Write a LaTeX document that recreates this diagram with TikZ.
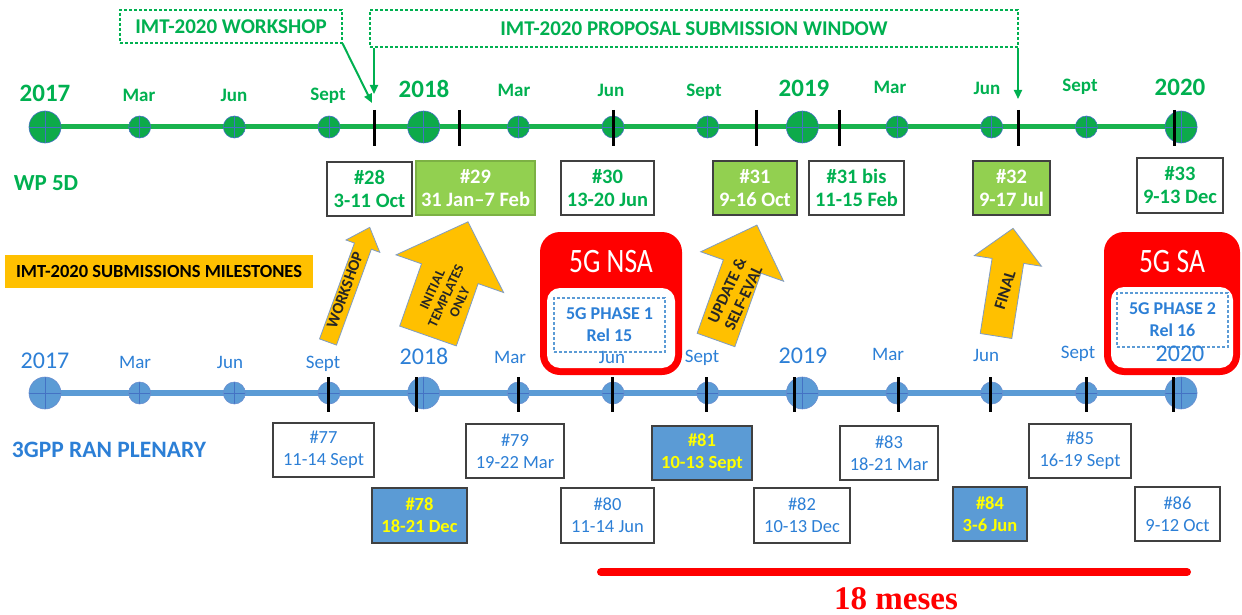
\documentclass[tikz,border=0pt]{standalone}
\usepackage{fontspec}
\setmainfont{Carlito}
\newfontfamily\mesesfont{Liberation Serif}
\usetikzlibrary{
  positioning,
  arrows.meta,
  backgrounds,
}
\definecolor{wpGreen}{HTML}{00B050}
\definecolor{wpLine}{HTML}{19B34E}
\definecolor{wpDot}{HTML}{0DAA4A}
\definecolor{wpFill}{HTML}{92D050}
\definecolor{ranBlue}{HTML}{5B9BD5}
\definecolor{ranText}{HTML}{2C7FD6}
\definecolor{crossCol}{HTML}{4472C4}
\definecolor{boxEdge}{HTML}{404040}
\definecolor{mileOrange}{HTML}{FFC000}
\definecolor{arrowEdge}{HTML}{7F9CC4}
\definecolor{relRed}{HTML}{FF0000}
\definecolor{relYellow}{HTML}{FFFF00}
\tikzset{
  crosshair/.style={
    path picture={\draw[crossCol, line width=0.6pt]
      (path picture bounding box.north) -- (path picture bounding box.south)
      (path picture bounding box.west) -- (path picture bounding box.east);},
  },
  wpdot/.style={circle, crosshair, fill=wpDot, draw=crossCol, line width=0.6pt, inner sep=0pt},
  randot/.style={circle, crosshair, fill=ranBlue, draw=crossCol!80, line width=0.6pt, inner sep=0pt},
  wpline/.style={wpLine, line width=5pt},
  ranline/.style={ranBlue, line width=6pt},
  tickmark/.style={black, line width=3pt},
  wpyear/.style={text=wpGreen, font=\fontsize{25}{28}\selectfont\bfseries, inner sep=0pt, text height=0.64em, text depth=0pt},
  wpmonth/.style={text=wpGreen, font=\fontsize{19}{22}\selectfont\bfseries, inner sep=0pt, text height=0.64em, text depth=0pt},
  ranyear/.style={text=ranText, font=\fontsize{24}{28}\selectfont, inner sep=0pt, text height=0.64em, text depth=0pt},
  ranmonth/.style={text=ranText, font=\fontsize{19}{22}\selectfont, inner sep=0pt, text height=0.64em, text depth=0pt},
  wpbox/.style={
    rectangle, draw=boxEdge, fill=white, line width=1.5pt, inner sep=0pt,
    align=center, text=wpGreen, font=\fontsize{20.5}{23}\selectfont\bfseries,
  },
  wpdone/.style={wpbox, fill=wpFill, text=white},
  ranbox/.style={
    rectangle, draw=boxEdge, fill=white, line width=1.5pt, inner sep=0pt,
    align=center, text=ranText, font=\fontsize{18.5}{22}\selectfont,
  },
  randone/.style={ranbox, fill=ranBlue, text=relYellow, font=\fontsize{18.5}{22}\selectfont\bfseries},
  windowbox/.style={
    rectangle, draw=wpGreen, dash pattern=on 3pt off 2pt, line width=1.2pt,
    inner sep=0pt, text=wpGreen, font=\fontsize{21}{24}\selectfont\bfseries,
  },
  wparrow/.style={-{Triangle[length=9pt, width=8pt]}, wpGreen, line width=2pt},
  milearrow/.style={fill=mileOrange, draw=arrowEdge, line width=0.8pt},
  miletext/.style={text=black!85, align=center, inner sep=0pt},
  relouter/.style={rectangle, rounded corners=20pt, fill=relRed, inner sep=0pt},
  relinner/.style={rectangle, rounded corners=13pt, fill=white, inner sep=0pt},
  reltitle/.style={text=white, font=\fontsize{29}{34}\selectfont, inner sep=0pt},
  phasebox/.style={
    rectangle, draw=ranBlue, dash pattern=on 3pt off 2pt, line width=1.2pt,
    inner sep=0pt, align=center, text=ranText, font=\fontsize{18}{22}\selectfont\bfseries,
  },
}

\begin{document}
\begin{tikzpicture}[x=1pt, y=-1pt]
  \useasboundingbox (0,0) rectangle (1242,615);

  % ITU-R window boxes
  \node[windowbox, minimum width=222pt, minimum height=33pt] (wsbox) at (231,26.5) {IMT-2020 WORKSHOP};
  \node[windowbox, minimum width=648pt, minimum height=37pt] (psbox) at (694,28.5) {IMT-2020 PROPOSAL SUBMISSION WINDOW};

  % timelines
  \foreach \i in {0,...,12} {
    \pgfmathtruncatemacro\q{mod(\i,4)}
    \ifnum\q=0 \def\dsize{32pt}\else\def\dsize{22pt}\fi
    \node[wpdot, minimum size=\dsize] (g\i) at ({45+94.67*\i},127) {};
    \node[randot, minimum size=\dsize] (r\i) at ({45+94.67*\i},393) {};
  }
  \begin{scope}[on background layer]
    \draw[wpline] (g0.center) -- (g12.center);
    \draw[ranline] (r0.center) -- (r12.center);
  \end{scope}

  \foreach \x in {374,459,613,756,839,1018,1174}
    \draw[tickmark] (\x,110) -- (\x,146);
  \foreach \x in {328,416,518,612,706,794,898,990,1086,1173}
    \draw[tickmark] (\x,377) -- (\x,412);

  \coordinate (wstip) at (372,103);
  \coordinate (pstipL) at (374,94);
  \coordinate (pstipR) at (1018,99);
  \draw[wparrow] (wsbox.south east) -- (wstip);
  \draw[wparrow] (psbox.south west -| pstipL) -- (pstipL);
  \draw[wparrow] (psbox.south east -| pstipR) -- (pstipR);

  % top labels
  \foreach \x/\y/\t in {45/98/2017, 424/94/2018, 804/93/2019, 1180/92/2020}
    \node[wpyear] (gy\t) at (\x,\y) {\t};
  \foreach \x/\y/\t [count=\n] in {139/98/Mar, 234/98/Jun, 328/97/Sept, 514/93/Mar, 611/93/Jun, 704/93/Sept, 890/90/Mar, 987/91/Jun, 1080/88/Sept}
    \node[wpmonth] (gm\n) at (\x,\y) {\t};

  \node[text=wpGreen, font=\fontsize{23}{26}\selectfont\bfseries] (wplabel) at (46,183) {WP 5D};

  % WP 5D meetings
  \node[wpbox, minimum width=85pt, minimum height=54pt] (wp28) at (369.5,189) {\#28\\3-11 Oct};
  \node[wpdone, draw=wpFill!85!black, minimum width=119pt, minimum height=54pt] (wp29) at (475.5,188) {\#29\\31 Jan--7 Feb};
  \node[wpbox, minimum width=93pt, minimum height=54pt] (wp30) at (607.5,188) {\#30\\13-20 Jun};
  \node[wpdone, minimum width=84pt, minimum height=54pt] (wp31) at (755,188) {\#31\\9-16 Oct};
  \node[wpbox, minimum width=95pt, minimum height=54pt] (wp31bis) at (856.5,188) {\#31 bis\\11-15 Feb};
  \node[wpdone, minimum width=77pt, minimum height=54pt] (wp32) at (1011.5,188) {\#32\\9-17 Jul};
  \node[wpbox, minimum width=86pt, minimum height=55pt] (wp33) at (1180,185.5) {\#33\\9-13 Dec};

  \node[fill=mileOrange, minimum width=308pt, minimum height=33pt, inner sep=0pt,
    font=\fontsize{18.5}{22}\selectfont\bfseries] (milelabel) at (159,271.5) {IMT-2020 SUBMISSIONS MILESTONES};

  % submission arrows
  \begin{scope}[shift={(328,342)}, rotate=70]
    \draw[milearrow] (0,-9) -- (102,-9) -- (102,-18) -- (122,0) -- (102,18) -- (102,9) -- (0,9) -- cycle;
  \end{scope}
  \begin{scope}[shift={(428,336)}, rotate=70.7]
    \draw[milearrow] (0,-30) -- (66,-30) -- (66,-57) -- (121,0) -- (66,57) -- (66,30) -- (0,30) -- cycle;
  \end{scope}
  \begin{scope}[shift={(716,340)}, rotate=70.4]
    \draw[milearrow] (0,-20) -- (78,-20) -- (78,-44) -- (122,0) -- (78,44) -- (78,20) -- (0,20) -- cycle;
  \end{scope}
  \begin{scope}[shift={(996,336)}, rotate=81]
    \draw[milearrow] (0,-16) -- (76,-16) -- (76,-34) -- (109,0) -- (76,34) -- (76,16) -- (0,16) -- cycle;
  \end{scope}
  \node[miletext, rotate=70, font=\fontsize{16}{18}\selectfont\bfseries] (wstext) at (345,290) {WORKSHOP};
  \node[miletext, rotate=65, font=\fontsize{14}{15}\selectfont\bfseries] (tpltext) at (446,296) {INITIAL\\TEMPLATES\\ONLY};
  \node[miletext, rotate=65, font=\fontsize{16.5}{18}\selectfont\bfseries] (updtext) at (735,294) {UPDATE \&\\SELF-EVAL};
  \node[miletext, rotate=73, font=\fontsize{16.5}{18}\selectfont\bfseries] (fintext) at (1005,290) {FINAL};

  % 3GPP releases
  \node[relouter, minimum width=142pt, minimum height=143pt] (nsa) at (611,303.5) {};
  \node[relinner, minimum width=128pt, minimum height=80pt] (nsain) at (611,328) {};
  \node[reltitle] (nsatitle) at (611,262) {\scalebox{0.95}[1.18]{5G NSA}};
  \node[phasebox, minimum width=111pt, minimum height=54pt] (nsaphase) at (609.5,325) {5G PHASE 1\\Rel 15};

  \node[relouter, minimum width=136pt, minimum height=143pt] (sa) at (1172,303.5) {};
  \node[relinner, minimum width=122pt, minimum height=81pt] (sain) at (1172,327.5) {};
  \node[reltitle] (satitle) at (1172,262) {\scalebox{0.95}[1.18]{5G SA}};
  \node[phasebox, minimum width=111pt, minimum height=54pt] (saphase) at (1172.5,320) {5G PHASE 2\\Rel 16};

  % bottom labels
  \foreach \x/\y/\t in {45/365/2017, 424/361/2018, 803/360/2019, 1180/358/2020}
    \node[ranyear] (ry\t) at (\x,\y) {\t};
  \foreach \x/\y/\t [count=\n] in {135/365/Mar, 230/365/Jun, 323/365/Sept, 510/360/Mar, 612/360/Jun, 702/359/Sept, 888/357/Mar, 986/358/Jun, 1078/355/Sept}
    \node[ranmonth] (rm\n) at (\x,\y) {\t};

  \node[text=ranText, font=\fontsize{23.5}{26}\selectfont\bfseries] (ranlabel) at (109,450) {3GPP RAN PLENARY};

  % RAN plenary meetings
  \node[ranbox, minimum width=101pt, minimum height=54pt] (ran77) at (323.5,450) {\#77\\11-14 Sept};
  \node[randone, minimum width=95pt, minimum height=55pt] (ran78) at (419.5,515.5) {\#78\\18-21 Dec};
  \node[ranbox, minimum width=98pt, minimum height=54pt] (ran79) at (515,451) {\#79\\19-22 Mar};
  \node[ranbox, minimum width=93pt, minimum height=55pt] (ran80) at (607.5,515.5) {\#80\\11-14 Jun};
  \node[randone, minimum width=100pt, minimum height=54pt] (ran81) at (702,453) {\#81\\10-13 Sept};
  \node[ranbox, minimum width=96pt, minimum height=55pt] (ran82) at (802,515.5) {\#82\\10-13 Dec};
  \node[ranbox, minimum width=98pt, minimum height=54pt] (ran83) at (889,453) {\#83\\18-21 Mar};
  \node[randone, minimum width=74pt, minimum height=54pt] (ran84) at (990,514) {\#84\\3-6 Jun};
  \node[ranbox, minimum width=102pt, minimum height=54pt] (ran85) at (1080,451) {\#85\\16-19 Sept};
  \node[ranbox, minimum width=85pt, minimum height=54pt] (ran86) at (1177.5,514) {\#86\\9-12 Oct};

  % 18 months
  \coordinate (spanA) at (601,572);
  \coordinate (spanB) at (1187,572);
  \draw[relRed, line width=8pt, line cap=round] (spanA) -- (spanB);
  \node[text=relRed, font=\mesesfont\fontsize{33}{36}\selectfont\bfseries, inner sep=0pt] (meses) at (896,599) {18 meses};

\end{tikzpicture}
\end{document}
